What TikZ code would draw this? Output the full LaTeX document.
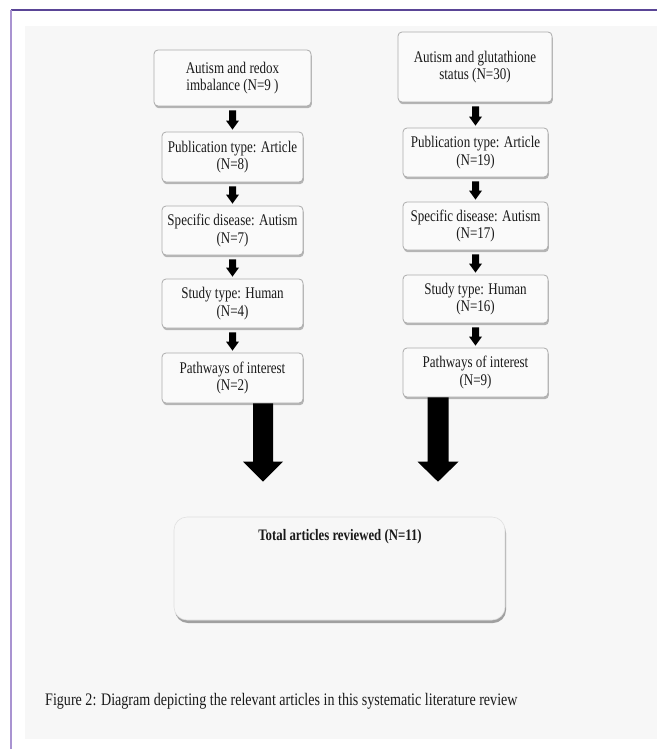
\documentclass[tikz,border=0pt]{standalone}
\usepackage{fontspec}
\setmainfont[FakeStretch=0.8]{Liberation Serif}
\usetikzlibrary{calc,shadows}
\definecolor{panel}{HTML}{F7F7F7}
\definecolor{purpdark}{HTML}{5A4596}
\definecolor{purplight}{HTML}{A993D1}
\definecolor{boxedge}{HTML}{ABABAB}
\definecolor{txt}{HTML}{1A1A1A}
\newcommand\smallarr[2]{\fill[black] ($(#1.south -| #2.north)+(-3.5,4)$) -- ($(#1.south -| #2.north)+(3.5,4)$) -- ($(#2.north)+(3.5,-11)$) -- ($(#2.north)+(6.5,-11)$) -- ($(#2.north)+(0,-2)$) -- ($(#2.north)+(-6.5,-11)$) -- ($(#2.north)+(-3.5,-11)$) -- cycle;}
\newcommand\fatarr[5]{\fill[black] ($(#1)+(-#3,0)$) -- ($(#1)+(#3,0)$) -- ($(#2)+(#3,-#5)$) -- ($(#2)+(#4,-#5)$) -- (#2) -- ($(#2)+(-#4,-#5)$) -- ($(#2)+(-#3,-#5)$) -- cycle;}
\tikzset{
  stepbox/.style={draw=boxedge, line width=0.8pt, fill=white!98!black, rounded corners=4pt,
    align=center, inner sep=0pt, text=txt, font=\fontsize{16.3}{17.5}\selectfont,
    drop shadow={shadow xshift=0.8pt, shadow yshift=-2.2pt, opacity=0.45, fill=black!60}},
  totbox/.style={draw=black!12, line width=0.6pt, fill=white!97!black, rounded corners=13pt,
    inner sep=0pt, drop shadow={shadow xshift=1pt, shadow yshift=-3pt, opacity=0.55, fill=black!65}},
  plain/.style={inner sep=0pt, text=txt, font=\fontsize{16}{17.5}\selectfont},
}
\begin{document}
\begin{tikzpicture}[x=1pt,y=-1pt]
\useasboundingbox (0,0) rectangle (657,749);
\fill[white] (0,0) rectangle (657,749);
\fill[panel] (25,26) rectangle (657,739);
\draw[purpdark, line width=2pt] (11,10) -- (657,10);
\draw[purplight, line width=2pt] (11,10) -- (11,749);

% left column
\node[stepbox, minimum width=157, minimum height=56] (l1) at (232.5,78) {Autism and redox\\imbalance (N=9 )};
\node[stepbox, minimum width=141, minimum height=50] (l2) at (232.5,157) {Publication type: Article\\(N=8)};
\node[stepbox, minimum width=141, minimum height=49] (l3) at (232.5,230.5) {Specific disease: Autism\\(N=7)};
\node[stepbox, minimum width=141, minimum height=49] (l4) at (232.5,303.5) {Study type: Human\\(N=4)};
\node[stepbox, minimum width=141, minimum height=50] (l5) at (232.5,378) {Pathways of interest\\(N=2)};

% right column
\node[stepbox, minimum width=154, minimum height=70] (r1) at (475,67) {Autism and glutathione\\status (N=30)};
\node[stepbox, minimum width=145, minimum height=49] (r2) at (475.5,152.5) {Publication type: Article\\(N=19)};
\node[stepbox, minimum width=145, minimum height=48] (r3) at (475.5,226) {Specific disease: Autism\\(N=17)};
\node[stepbox, minimum width=145, minimum height=48] (r4) at (475.5,299) {Study type: Human\\(N=16)};
\node[stepbox, minimum width=145, minimum height=49] (r5) at (475.5,372.5) {Pathways of interest\\(N=9)};

% total
\node[totbox, minimum width=331, minimum height=103] (tot) at (339.5,568.5) {};
\node[plain, font=\fontsize{16}{17.5}\selectfont\bfseries] (totlabel) at ($(tot.north)+(0.5,20)$) {Total articles reviewed (N=11)};

% small arrows
\smallarr{l1}{l2}
\smallarr{l2}{l3}
\smallarr{l3}{l4}
\smallarr{l4}{l5}
\smallarr{r1}{r2}
\smallarr{r2}{r3}
\smallarr{r3}{r4}
\smallarr{r4}{r5}

% big arrows
\coordinate (lbs) at ($(l5.south)+(30.5,0)$);
\coordinate (lbt) at ($(lbs |- tot.north)+(0,-35)$);
\coordinate (rbs) at ($(r5.south)+(-37.5,0)$);
\coordinate (rbt) at ($(rbs |- tot.north)+(0,-35)$);
\fatarr{lbs}{lbt}{10}{20}{20}
\fatarr{rbs}{rbt}{10.5}{20.5}{20}

% caption
\node[plain, anchor=west, font=\fontsize{17.6}{19}\selectfont] (caption) at (45,701) {Figure 2: Diagram depicting the relevant articles in this systematic literature review};
\end{tikzpicture}
\end{document}
